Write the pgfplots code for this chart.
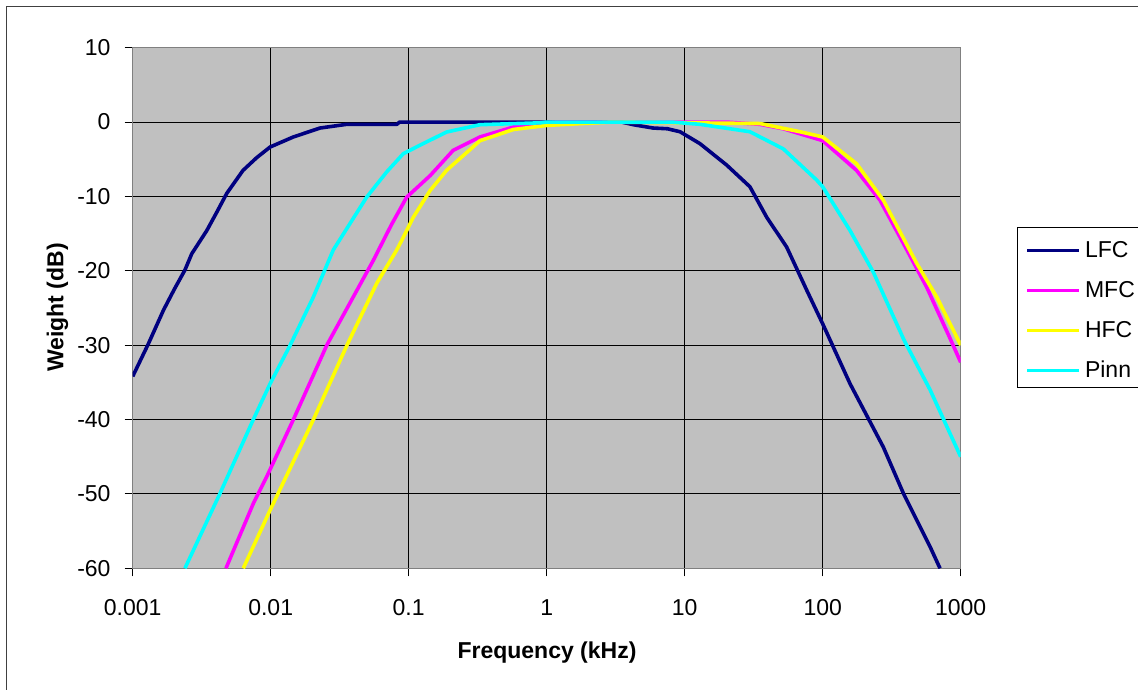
\documentclass[border=0pt]{standalone}
\usepackage{fontspec}
\setmainfont{Liberation Sans}
\usepackage{pgfplots}
\pgfplotsset{compat=1.18}
\definecolor{bggray}{HTML}{C0C0C0}
\definecolor{lfc}{HTML}{000080}
\definecolor{mfc}{HTML}{FF00FF}
\definecolor{hfc}{HTML}{FFFF00}
\definecolor{pinn}{HTML}{00FFFF}
\begin{document}
\fontsize{23}{27.6}\selectfont
\begin{tikzpicture}
\useasboundingbox (0pt,0pt) rectangle (1138pt,-690pt);
\draw[line width=1.5pt, black!75] (1138pt,-6.5pt) -- (6.5pt,-6.5pt) -- (6.5pt,-690pt);
\begin{axis}[
  at={(132.7pt,-568.3pt)}, anchor=south west,
  scale only axis, width=828pt, height=520.6pt,
  xmode=log, log basis x=10,
  xmin=0.001, xmax=1000, ymin=-60, ymax=10,
  xtick={0.001,0.01,0.1,1,10,100,1000},
  xticklabels={0.001,0.01,0.1,1,10,100,1000},
  ytick={-60,-50,-40,-30,-20,-10,0,10},
  yticklabels={-60,-50,-40,-30,-20,-10,0,10},
  xminorticks=false, yminorticks=false,
  grid=major,
  major grid style={black, line width=1pt},
  axis background/.style={fill=bggray},
  axis line style={black!50, line width=1.5pt},
  tick align=outside, xtick pos=left, ytick pos=left,
  major tick length=8pt,
  tick style={black, line width=1pt},
  tick label style={font=\fontsize{23}{27.6}\selectfont, inner sep=0pt},
  xticklabel style={anchor=base, yshift=-38.7pt},
  yticklabel style={anchor=east, xshift=-14pt},
  xlabel={Frequency (kHz)}, ylabel={Weight (dB)},
  xlabel style={at={(axis description cs:0.5004,-0.1729)}, anchor=base, font=\bfseries\fontsize{23}{27.6}\selectfont, inner sep=0pt},
  ylabel style={at={(axis description cs:-0.0838,0.501)}, anchor=base, rotate=0, font=\bfseries\fontsize{23}{27.6}\selectfont, inner sep=0pt},
  legend style={
    at={(axis description cs:1.0683,0.655)}, anchor=north west,
    draw=black, line width=1pt, fill=white,
    inner xsep=7.7pt, inner ysep=0pt,
    row sep=0pt, column sep=4pt,
    font=\fontsize{23}{27.6}\selectfont,
    cells={anchor=base west},
    nodes={inner sep=0pt, text height=30pt, text depth=10pt, anchor=base west},
  },
  legend image code/.code={\draw[#1] (0pt,7.3pt) -- (52pt,7.3pt);},
  every axis plot/.append style={line width=3.6pt, line join=round},
]
\addplot[lfc] coordinates {
(0.001,-34.2) (0.0013,-29.8) (0.00167,-25.3) (0.002,-22.5) (0.00239,-19.9)
(0.00268,-17.7) (0.00344,-14.6) (0.0041,-12.0) (0.0048,-9.6) (0.0063,-6.5) (0.0079,-4.8)
(0.00989,-3.36) (0.0146,-2.0) (0.0228,-0.8) (0.0356,-0.3) (0.082,-0.3)
(0.086,0) (1,0) (3.5,0) (4.24,-0.35) (5.9,-0.8) (7.5,-0.9) (9.25,-1.3)
(12.9,-2.9) (20.2,-5.8) (29.7,-8.7) (39.3,-12.8) (54.8,-16.8) (76.6,-22.6)
(101,-27.3) (158,-35.2) (275,-43.7) (384,-49.9) (600,-57.1) (700,-59.8) (710,-60)
};
\addlegendentry{LFC}
\addplot[mfc] coordinates {
(0.00474,-60) (0.0060,-55.5) (0.00748,-51.3) (0.00935,-47.7) (0.0146,-40) (0.0255,-30)
(0.0397,-23.5) (0.0554,-18.6) (0.075,-13.8) (0.0967,-10.1) (0.143,-7.2) (0.21,-3.8)
(0.329,-2.0) (0.573,-0.67) (0.9,-0.2) (1.2,0) (20,0) (35,-0.3) (51.8,-0.9)
(100,-2.5) (176,-6.5) (260,-10.5) (384,-16.3) (567,-22.2) (838,-29.1) (1000,-32.3)
};
\addlegendentry{MFC}
\addplot[hfc] coordinates {
(0.00633,-60) (0.00989,-52.2) (0.0204,-40) (0.0356,-30.05) (0.0586,-21.7)
(0.0819,-17.2) (0.0914,-15.5) (0.108,-12.8) (0.143,-9.2) (0.188,-6.5) (0.329,-2.5)
(0.573,-1.0) (1.0,-0.45) (1.78,-0.2) (3,0) (35.2,-0.2) (68.5,-1.3) (100,-2)
(176,-5.6) (275,-10.5) (480,-19.0) (670,-23.5) (1000,-30)
};
\addlegendentry{HFC}
\addplot[pinn] coordinates {
(0.00239,-60) (0.0043,-49.9) (0.00748,-40) (0.00989,-35.2) (0.0138,-30.05)
(0.0204,-23.5) (0.0284,-17.2) (0.0496,-10.1) (0.0693,-6.7) (0.0914,-4.25)
(0.121,-3.1) (0.188,-1.34) (0.329,-0.35) (0.9,-0.1) (1,0) (8,0) (12.9,-0.3)
(29.7,-1.3) (51.8,-3.6) (90.5,-7.8) (100,-8.7) (158,-14.6) (233,-20.2)
(384,-29.1) (406,-30) (600,-36) (838,-41.9) (1000,-45)
};
\addlegendentry{Pinn}
\end{axis}
\end{tikzpicture}
\end{document}
